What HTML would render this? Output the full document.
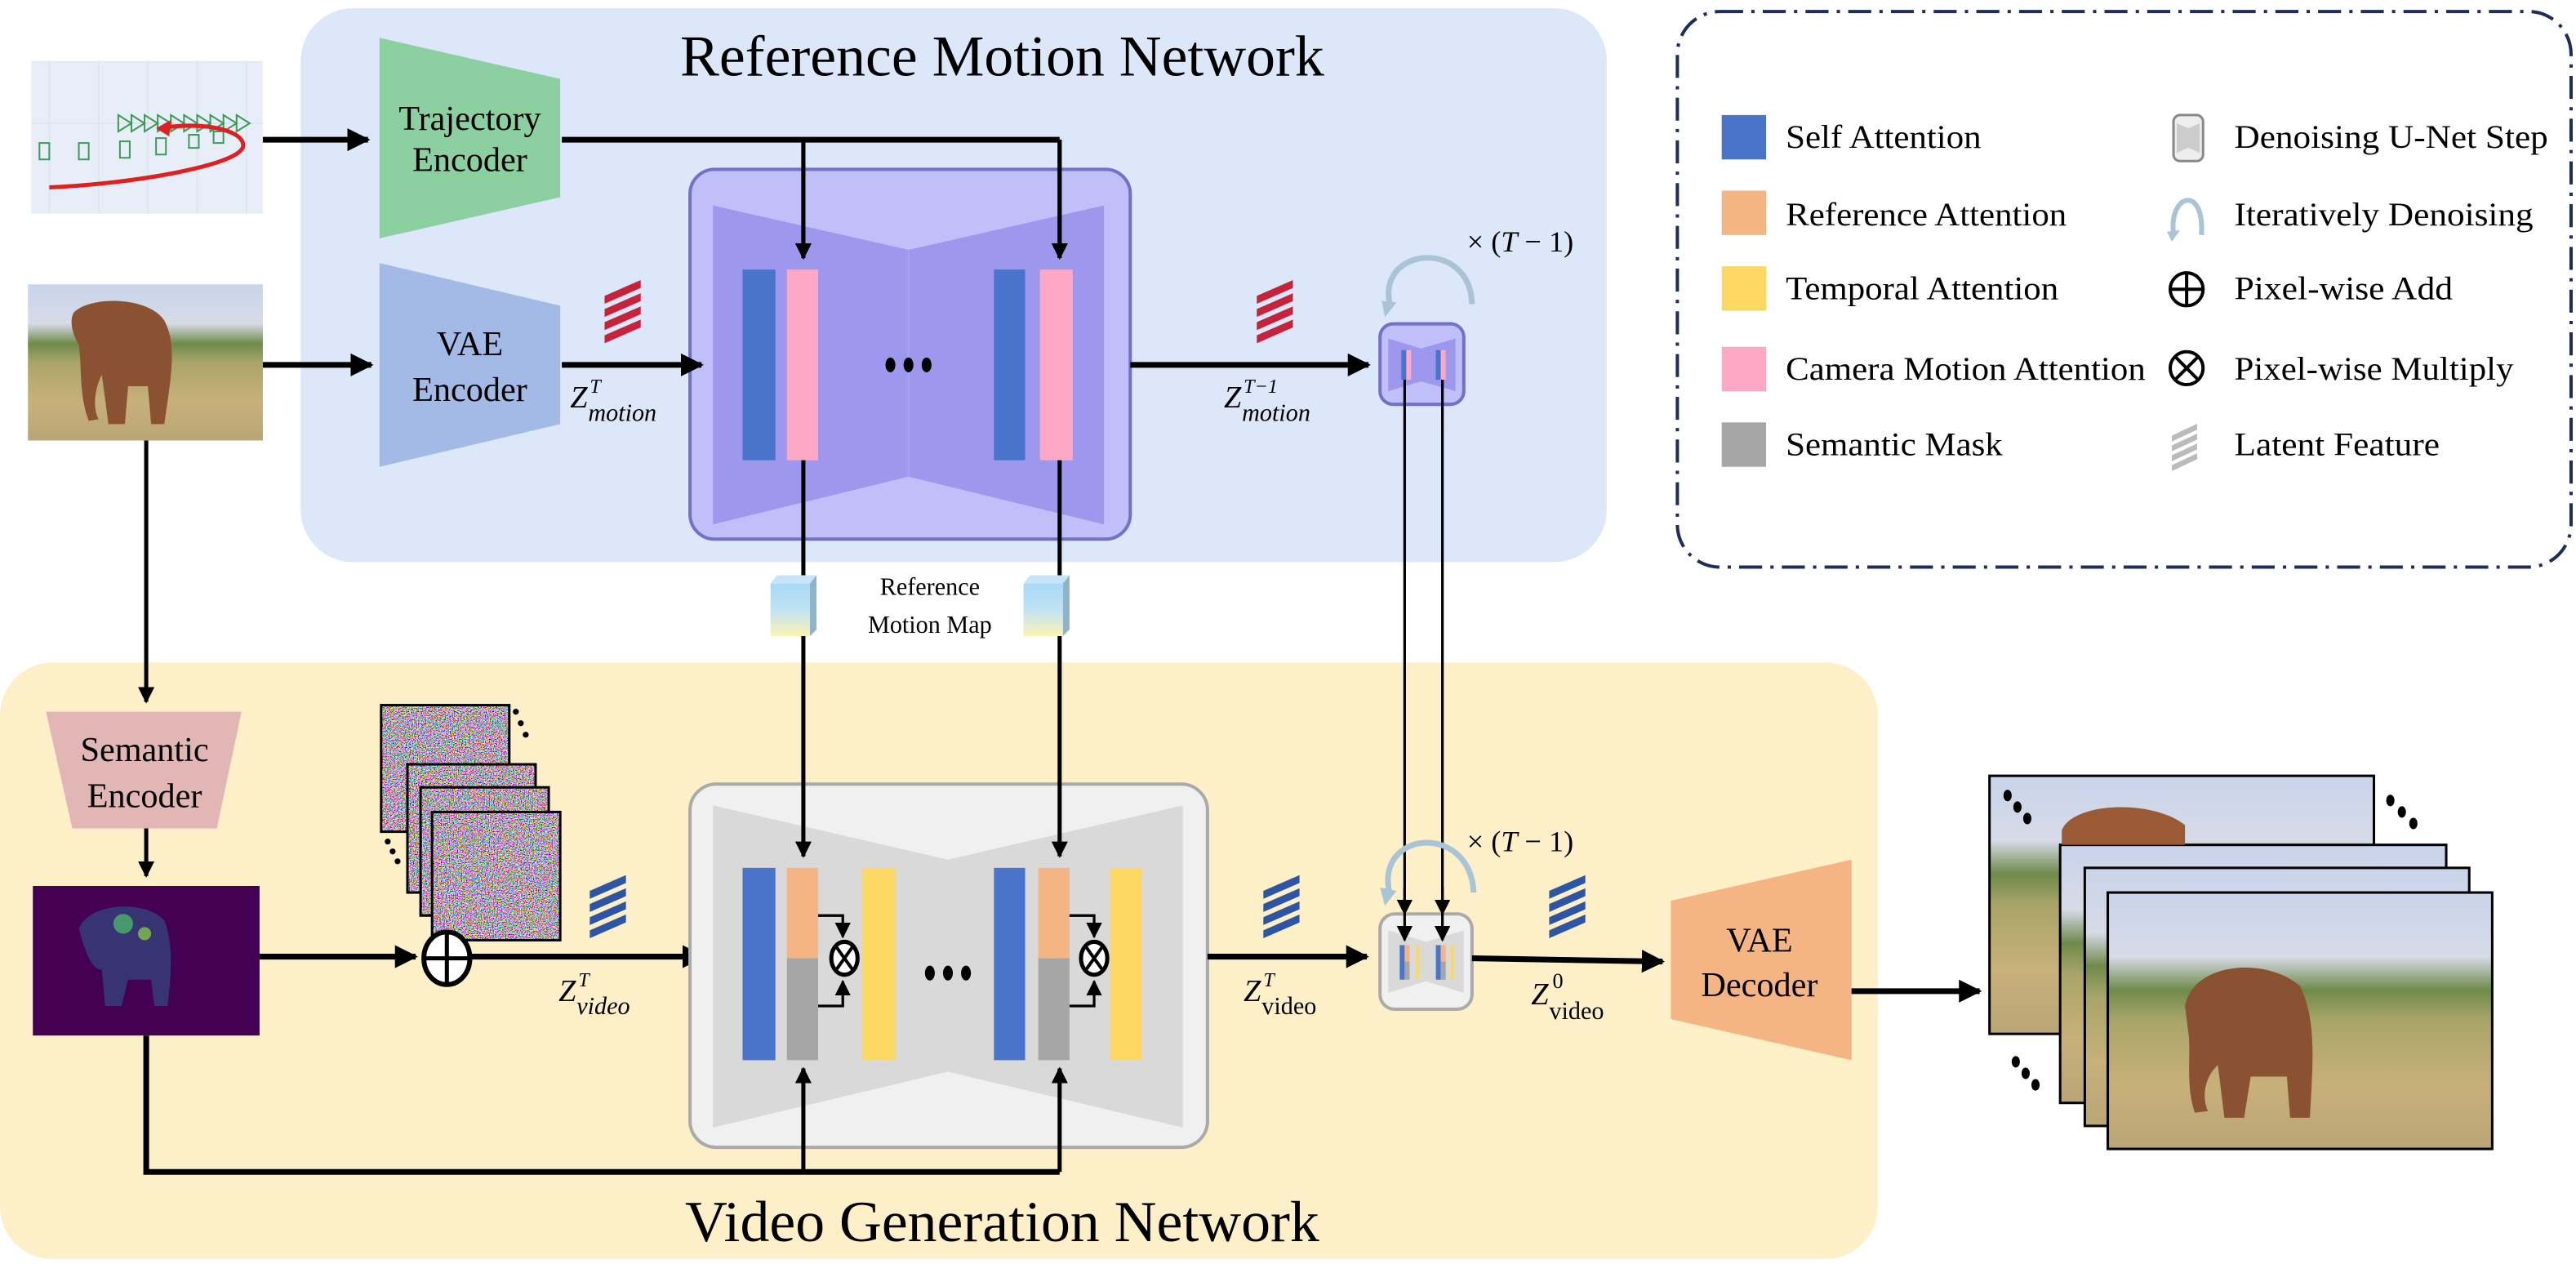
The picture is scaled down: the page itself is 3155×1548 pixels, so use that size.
<!DOCTYPE html>
<html><head><meta charset="utf-8"><style>
html,body{margin:0;padding:0;background:#fff}
svg{display:block}
text{font-family:"Liberation Serif","Times New Roman",serif;fill:#000}
</style></head><body>
<svg width="3155" height="1548" viewBox="0 0 1568 769" preserveAspectRatio="none" xmlns="http://www.w3.org/2000/svg" font-family="Liberation Serif, serif">
<defs>
<marker id="ah" viewBox="0 0 10 10" refX="9" refY="5" markerWidth="4" markerHeight="4" orient="auto-start-reverse"><path d="M0,0L10,5L0,10z" fill="#000"/></marker>
<marker id="ahs" viewBox="0 0 10 10" refX="9" refY="5" markerWidth="6" markerHeight="6" orient="auto"><path d="M0,0L10,5L0,10z" fill="#000"/></marker>
<linearGradient id="cube" x1="0" y1="0" x2="0" y2="1"><stop offset="0" stop-color="#a9d8f7"/><stop offset="0.5" stop-color="#bfe3f3"/><stop offset="1" stop-color="#fdf3b3"/></linearGradient>
<linearGradient id="photo" x1="0" y1="0" x2="0" y2="1"><stop offset="0" stop-color="#c9d3ea"/><stop offset="0.25" stop-color="#d7dbe8"/><stop offset="0.38" stop-color="#6f8a4a"/><stop offset="0.5" stop-color="#a9a56a"/><stop offset="0.75" stop-color="#c8b07a"/><stop offset="1" stop-color="#b9a577"/></linearGradient>
<filter id="noise" x="0" y="0" width="100%" height="100%"><feTurbulence type="fractalNoise" baseFrequency="1.6" numOctaves="1" seed="3"/><feColorMatrix type="matrix" values="4 0 0 0 -1.45  0 4 0 0 -1.55  0 0 4 0 -1.45  0 0 0 0 1"/></filter>
<g id="latent"><polygon points="0,10 22,-2 22,4 0,16"/><polygon points="0,20 22,8 22,14 0,26"/><polygon points="0,30 22,18 22,24 0,36"/><polygon points="0,40 22,28 22,34 0,46"/></g>
</defs>

<!-- Reference Motion Network panel -->
<rect x="183" y="5" width="795" height="337" rx="32" fill="#dce7f9"/>
<text x="610" y="46" font-size="35" text-anchor="middle" textLength="392" lengthAdjust="spacingAndGlyphs">Reference Motion Network</text>

<!-- Legend -->
<rect x="1021" y="7" width="544" height="338" rx="26" fill="none" stroke="#1f2d5a" stroke-width="2" stroke-dasharray="14,5,2,5"/>
<rect x="1048" y="70" width="27" height="27" fill="#4a74cc"/>
<rect x="1048" y="116" width="27" height="27" fill="#f4b483"/>
<rect x="1048" y="162" width="27" height="27" fill="#fcd862"/>
<rect x="1048" y="211" width="27" height="27" fill="#fda8c4"/>
<rect x="1048" y="257" width="27" height="27" fill="#a6a6a6"/>
<g font-size="20">
<text x="1087" y="90" textLength="119" lengthAdjust="spacingAndGlyphs">Self Attention</text>
<text x="1087" y="137" textLength="171" lengthAdjust="spacingAndGlyphs">Reference Attention</text>
<text x="1087" y="182" textLength="166" lengthAdjust="spacingAndGlyphs">Temporal Attention</text>
<text x="1087" y="231" textLength="219" lengthAdjust="spacingAndGlyphs">Camera Motion Attention</text>
<text x="1087" y="277" textLength="132" lengthAdjust="spacingAndGlyphs">Semantic Mask</text>
<text x="1360" y="90" textLength="191" lengthAdjust="spacingAndGlyphs">Denoising U-Net Step</text>
<text x="1360" y="137" textLength="182" lengthAdjust="spacingAndGlyphs">Iteratively Denoising</text>
<text x="1360" y="182" textLength="133" lengthAdjust="spacingAndGlyphs">Pixel-wise Add</text>
<text x="1360" y="231" textLength="170" lengthAdjust="spacingAndGlyphs">Pixel-wise Multiply</text>
<text x="1360" y="277" textLength="125" lengthAdjust="spacingAndGlyphs">Latent Feature</text>
</g>
<rect x="1323" y="70" width="18" height="28" rx="4" fill="#eee" stroke="#888" stroke-width="1.5"/>
<polygon points="1325,75 1332,78 1339,75 1339,93 1332,90 1325,93" fill="#ccc"/>
<path d="M1323,142 C1320,118 1342,112 1340,143" fill="none" stroke="#a9c4d6" stroke-width="3"/>
<polygon points="1319,141 1327,140 1322,147" fill="#a9c4d6"/>
<circle cx="1331" cy="176" r="10" fill="#fff" stroke="#000" stroke-width="2"/><path d="M1321,176h20M1331,166v20" stroke="#000" stroke-width="2"/>
<circle cx="1331" cy="224" r="10" fill="#fff" stroke="#000" stroke-width="2"/><path d="M1324,217l14,14M1338,217l-14,14" stroke="#000" stroke-width="2"/>
<g fill="#bbb" transform="translate(1322,259) scale(0.7,0.6)"><use href="#latent"/></g>

<!-- Trajectory image -->
<rect x="19" y="37" width="141" height="93" fill="#e8eef8"/>
<g stroke="#dfe6f1" stroke-width="1"><path d="M30,37v93M60,37v93M90,37v93M120,37v93M150,37v93M19,75h141"/></g>
<g fill="none" stroke="#3c9a5a" stroke-width="1">
<path d="M72,70l8,5-8,5zM80,70l8,5-8,5zM88,70l8,5-8,5zM96,70l8,5-8,5zM104,70l8,5-8,5zM112,70l8,5-8,5zM120,70l8,5-8,5zM128,70l8,5-8,5zM136,70l8,5-8,5zM144,70l8,5-8,5z"/>
<path d="M24,87h6v10h-6zM48,87h6v10h-6zM73,86h6v10h-6zM95,84h6v10h-6zM115,82h6v8h-6zM130,80h6v7h-6z"/>
</g>
<path d="M30,114 C80,112 150,100 148,88 C147,78 120,74 98,78" fill="none" stroke="#e02020" stroke-width="2.5"/>
<polygon points="95,78 104,73 103,83" fill="#e02020"/>

<!-- Elephant input -->
<rect x="17" y="173" width="143" height="95" fill="url(#photo)"/>
<path d="M45,190 C55,180 90,180 100,195 C108,210 104,230 100,258 L92,258 L90,235 L78,235 L76,258 L66,258 L62,228 C58,235 56,248 60,255 L54,256 C48,240 50,225 48,210 C44,203 42,195 45,190z" fill="#8a5233"/>

<!-- Trajectory Encoder -->
<polygon points="231,23 341,48 341,120 231,145" fill="#8ccfa1"/>
<text x="286" y="79" font-size="21" text-anchor="middle">Trajectory</text>
<text x="286" y="104" font-size="21" text-anchor="middle">Encoder</text>
<!-- VAE Encoder -->
<polygon points="231,160 341,186 341,258 231,284" fill="#a3b9e6"/>
<text x="286" y="216" font-size="21" text-anchor="middle">VAE</text>
<text x="286" y="244" font-size="21" text-anchor="middle">Encoder</text>

<!-- Motion UNet -->
<rect x="420" y="103" width="268" height="225" rx="15" fill="#c0bff9" stroke="#7370cc" stroke-width="2"/>
<polygon points="434,125 553,152 672,125 672,319 553,290 434,319" fill="#9e97ee"/>
<line x1="553" y1="152" x2="553" y2="290" stroke="#a9a3f0" stroke-width="1"/>
<rect x="452" y="164" width="20" height="116" fill="#4a74cc"/>
<rect x="479" y="164" width="19" height="116" fill="#fda8c4"/>
<rect x="605" y="164" width="19" height="116" fill="#4a74cc"/>
<rect x="633" y="164" width="20" height="116" fill="#fda8c4"/>
<g fill="#000"><ellipse cx="542" cy="222" rx="3" ry="4.5"/><ellipse cx="553" cy="222" rx="3" ry="4.5"/><ellipse cx="564" cy="222" rx="3" ry="4.5"/></g>

<g stroke="#000" stroke-width="3.5" fill="none">
<path d="M160,85H224" marker-end="url(#ah)"/>
<path d="M160,222H226" marker-end="url(#ah)"/>
<path d="M342,222H427" marker-end="url(#ah)"/>
<path d="M342,85H645"/>
</g>
<g stroke="#000" stroke-width="2.5" fill="none">
<path d="M489,85V157" marker-end="url(#ah)"/>
<path d="M645,85V157" marker-end="url(#ah)"/>
</g>

<g fill="#c8213a"><use href="#latent" transform="translate(368,172) scale(1,0.8)"/><use href="#latent" transform="translate(765,172) scale(1,0.8)"/></g>
<text x="347" y="248" font-size="19" font-style="italic">Z</text><text x="359" y="239" font-size="12" font-style="italic">T</text><text x="358" y="256" font-size="15" font-style="italic">motion</text>
<text x="745" y="248" font-size="19" font-style="italic">Z</text><text x="757" y="239" font-size="12" font-style="italic">T−1</text><text x="756" y="256" font-size="15" font-style="italic">motion</text>

<path d="M688,222H833" stroke="#000" stroke-width="3.5" marker-end="url(#ah)"/>
<!-- small motion unet -->
<rect x="840" y="197" width="51" height="49" rx="8" fill="#c0bff9" stroke="#7370cc" stroke-width="2"/>
<polygon points="845,206 865,212 886,206 886,238 865,232 845,238" fill="#9e97ee"/>
<rect x="853" y="213" width="3" height="18" fill="#4a74cc"/><rect x="856" y="213" width="3" height="18" fill="#fda8c4"/>
<rect x="874" y="213" width="3" height="18" fill="#4a74cc"/><rect x="877" y="213" width="3" height="18" fill="#fda8c4"/>
<path d="M846,185 C838,150 895,145 896,185" fill="none" stroke="#a9c4d6" stroke-width="3.5"/>
<polygon points="841,183 850,184 843,193" fill="#a9c4d6"/>
<text x="893" y="153" font-size="18">× (<tspan font-style="italic">T</tspan> − 1)</text>

<!-- Lower panel -->
<rect x="0" y="403" width="1143" height="363" rx="32" fill="#fdf0c8"/>
<text x="610" y="755" font-size="35" text-anchor="middle" textLength="386" lengthAdjust="spacingAndGlyphs">Video Generation Network</text>

<g stroke="#000" stroke-width="1.6" fill="none">
<path d="M855,231V556" marker-end="url(#ahs)"/>
<path d="M878,231V556" marker-end="url(#ahs)"/>
</g>

<!-- motion map cubes -->
<g>
<rect x="469" y="355" width="24" height="32" fill="url(#cube)"/><polygon points="469,355 473,350 497,350 493,355" fill="#c6e5fb"/><polygon points="493,355 497,350 497,383 493,387" fill="#8fb4c9"/>
<rect x="623" y="355" width="24" height="32" fill="url(#cube)"/><polygon points="623,355 627,350 651,350 647,355" fill="#c6e5fb"/><polygon points="647,355 651,350 651,383 647,387" fill="#8fb4c9"/>
</g>
<text x="566" y="362" font-size="15" text-anchor="middle">Reference</text>
<text x="566" y="385" font-size="15" text-anchor="middle">Motion Map</text>

<!-- semantic branch -->
<path d="M89,268V427" stroke="#000" stroke-width="2.5" marker-end="url(#ah)"/>
<polygon points="28,433 147,433 132,504 44,504" fill="#e1b6b5"/>
<text x="88" y="463" font-size="21" text-anchor="middle">Semantic</text>
<text x="88" y="491" font-size="21" text-anchor="middle">Encoder</text>
<path d="M89,504V533" stroke="#000" stroke-width="2.5" marker-end="url(#ah)"/>
<rect x="20" y="539" width="138" height="91" fill="#440154"/>
<path d="M48,565 C55,548 90,548 100,560 C106,575 104,595 102,612 L94,612 L92,596 L78,596 L74,612 L64,612 L62,590 C56,590 52,580 48,565z" fill="#2b5f8a" opacity="0.55"/>
<circle cx="75" cy="562" r="6" fill="#4ec36b" opacity="0.7"/><circle cx="88" cy="568" r="4" fill="#8fd744" opacity="0.7"/>

<!-- noise stack -->
<g stroke="#000" stroke-width="1.5">
<rect x="232" y="429" width="78" height="77" fill="#8a7d86" filter="url(#noise)"/>
<rect x="232" y="429" width="78" height="77" fill="none"/>
<rect x="248" y="465" width="78" height="78" fill="#8a7d86" filter="url(#noise)"/>
<rect x="248" y="465" width="78" height="78" fill="none"/>
<rect x="256" y="479" width="78" height="78" fill="#8a7d86" filter="url(#noise)"/>
<rect x="256" y="479" width="78" height="78" fill="none"/>
<rect x="263" y="494" width="78" height="78" fill="#8a7d86" filter="url(#noise)"/>
<rect x="263" y="494" width="78" height="78" fill="none"/>
</g>
<g fill="#000"><circle cx="314" cy="433" r="1.8"/><circle cx="317" cy="440" r="1.8"/><circle cx="320" cy="447" r="1.8"/><circle cx="236" cy="512" r="1.8"/><circle cx="239" cy="518" r="1.8"/><circle cx="242" cy="524" r="1.8"/></g>

<path d="M277,572V599" stroke="#000" stroke-width="2.5" fill="none" marker-end="url(#ah)"/>
<path d="M158,582H253" stroke="#000" stroke-width="3.5" marker-end="url(#ah)"/>
<ellipse cx="272" cy="583" rx="14" ry="16" fill="#fff" stroke="#000" stroke-width="3"/>
<path d="M258,583H286M272,567V599" stroke="#000" stroke-width="2.5"/>
<path d="M286,582H428" stroke="#000" stroke-width="3.5" marker-end="url(#ah)"/>
<g fill="#2d55a5"><use href="#latent" transform="translate(359,534) scale(1,0.8)"/><use href="#latent" transform="translate(769,534) scale(1,0.8)"/><use href="#latent" transform="translate(943,534) scale(1,0.8)"/></g>
<text x="340" y="609" font-size="19" font-style="italic">Z</text><text x="352" y="600" font-size="12" font-style="italic">T</text><text x="351" y="617" font-size="15" font-style="italic">video</text>

<!-- Video UNet -->
<rect x="420" y="477" width="315" height="221" rx="16" fill="#f0f0f0" stroke="#aaa" stroke-width="2"/>
<polygon points="434,490 577,523 720,490 720,686 577,652 434,686" fill="#d9d9d9"/>
<rect x="452" y="528" width="20" height="117" fill="#4a74cc"/>
<rect x="479" y="528" width="19" height="55" fill="#f4b483"/><rect x="479" y="583" width="19" height="62" fill="#a6a6a6"/>
<rect x="525" y="528" width="20" height="117" fill="#fcd862"/>
<rect x="605" y="528" width="19" height="117" fill="#4a74cc"/>
<rect x="632" y="528" width="19" height="55" fill="#f4b483"/><rect x="632" y="583" width="19" height="62" fill="#a6a6a6"/>
<rect x="676" y="528" width="19" height="117" fill="#fcd862"/>
<g stroke="#000" stroke-width="1.6" fill="none">
<path d="M498,557H513V570" marker-end="url(#ahs)"/>
<path d="M498,612H513V597" marker-end="url(#ahs)"/>
<path d="M651,557H666V570" marker-end="url(#ahs)"/>
<path d="M651,612H666V597" marker-end="url(#ahs)"/>
</g>
<g><ellipse cx="514" cy="583" rx="8" ry="10" fill="#fff" stroke="#000" stroke-width="2.5"/><path d="M509,576l10,14M519,576l-10,14" stroke="#000" stroke-width="2"/>
<ellipse cx="666" cy="583" rx="8" ry="10" fill="#fff" stroke="#000" stroke-width="2.5"/><path d="M661,576l10,14M671,576l-10,14" stroke="#000" stroke-width="2"/></g>
<g fill="#000"><ellipse cx="566" cy="592" rx="3" ry="4.5"/><ellipse cx="577" cy="592" rx="3" ry="4.5"/><ellipse cx="588" cy="592" rx="3" ry="4.5"/></g>

<!-- vertical connectors (on top) -->
<g stroke="#000" stroke-width="2.5" fill="none">
<path d="M489,280V350"/><path d="M645,280V350"/>
<path d="M489,387V521" marker-end="url(#ah)"/>
<path d="M645,387V521" marker-end="url(#ah)"/>
<path d="M489,85V157" marker-end="url(#ah)"/>
<path d="M645,85V157" marker-end="url(#ah)"/>
</g>

<!-- feedback from mask -->
<path d="M89,630V713H645" stroke="#000" stroke-width="3.5" fill="none"/>
<path d="M489,713V650" stroke="#000" stroke-width="2.5" marker-end="url(#ah)"/>
<path d="M645,713V650" stroke="#000" stroke-width="2.5" marker-end="url(#ah)"/>

<path d="M735,582H832" stroke="#000" stroke-width="3.5" marker-end="url(#ah)"/>
<text x="757" y="609" font-size="19" font-style="italic">Z</text><text x="769" y="600" font-size="12" font-style="italic">T</text><text x="768" y="617" font-size="15">video</text>

<!-- small video unet -->
<rect x="840" y="556" width="56" height="58" rx="9" fill="#f0f0f0" stroke="#aaa" stroke-width="2"/>
<polygon points="845,566 868,573 891,566 891,604 868,597 845,604" fill="#d9d9d9"/>
<rect x="852" y="575" width="3" height="21" fill="#4a74cc"/><rect x="855" y="575" width="3" height="10" fill="#f4b483"/><rect x="855" y="585" width="3" height="11" fill="#a6a6a6"/><rect x="862" y="575" width="2" height="21" fill="#fcd862"/>
<rect x="874" y="575" width="3" height="21" fill="#4a74cc"/><rect x="877" y="575" width="3" height="10" fill="#f4b483"/><rect x="877" y="585" width="3" height="11" fill="#a6a6a6"/><rect x="883" y="575" width="2" height="21" fill="#fcd862"/>
<g stroke="#000" stroke-width="1.6" fill="none">
<path d="M855,540V572" marker-end="url(#ahs)"/>
<path d="M878,540V572" marker-end="url(#ahs)"/>
</g>
<path d="M846,544 C836,505 895,500 897,543" fill="none" stroke="#a9c4d6" stroke-width="3.5"/>
<polygon points="840,540 850,542 843,551" fill="#a9c4d6"/>
<text x="893" y="518" font-size="18">× (<tspan font-style="italic">T</tspan> − 1)</text>

<path d="M896,583L1012,585" stroke="#000" stroke-width="3.5" marker-end="url(#ah)"/>
<text x="932" y="611" font-size="19" font-style="italic">Z</text><text x="945" y="601" font-size="13">0</text><text x="943" y="620" font-size="15">video</text>

<!-- VAE decoder -->
<polygon points="1017,548 1127,523 1127,645 1017,620" fill="#f4b483"/>
<text x="1071" y="579" font-size="21" text-anchor="middle">VAE</text>
<text x="1071" y="606" font-size="21" text-anchor="middle">Decoder</text>
<path d="M1127,603H1205" stroke="#000" stroke-width="3.5" marker-end="url(#ah)"/>

<!-- output frames -->
<g stroke="#000" stroke-width="1.5">
<rect x="1211" y="472" width="234" height="157" fill="url(#photo)"/>
<rect x="1254" y="514" width="235" height="157" fill="url(#photo)"/>
<rect x="1269" y="528" width="234" height="157" fill="url(#photo)"/>
<rect x="1283" y="543" width="234" height="156" fill="url(#photo)"/>
</g>
<path d="M1255,505 C1262,488 1310,486 1330,502 L1330,514 L1255,514z" fill="#9a5a35"/>
<path d="M1330,612 C1335,585 1380,582 1400,600 C1410,620 1408,645 1406,680 L1394,680 L1392,655 L1370,655 L1366,680 L1354,680 L1350,648 C1342,655 1340,668 1344,676 L1336,677 C1330,660 1334,640 1332,628z" fill="#8a5233"/>
<g fill="#000"><ellipse cx="1222" cy="484" rx="2.5" ry="3.5"/><ellipse cx="1228" cy="491" rx="2.5" ry="3.5"/><ellipse cx="1234" cy="498" rx="2.5" ry="3.5"/>
<ellipse cx="1455" cy="487" rx="2.5" ry="3.5"/><ellipse cx="1462" cy="494" rx="2.5" ry="3.5"/><ellipse cx="1469" cy="501" rx="2.5" ry="3.5"/>
<ellipse cx="1227" cy="646" rx="2.5" ry="3.5"/><ellipse cx="1233" cy="653" rx="2.5" ry="3.5"/><ellipse cx="1239" cy="660" rx="2.5" ry="3.5"/></g>
</svg>
</body></html>
